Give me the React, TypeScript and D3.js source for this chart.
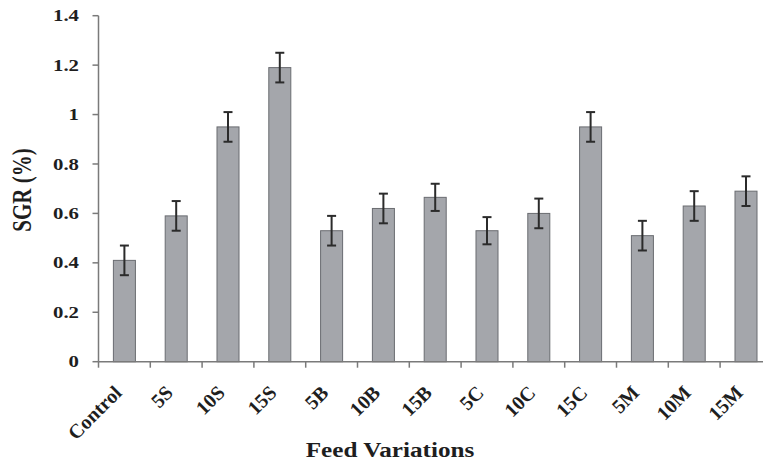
import { useEffect, useRef } from 'react';
import * as d3 from 'd3';

const categories = ['Control', '5S', '10S', '15S', '5B', '10B', '15B', '5C', '10C', '15C', '5M', '10M', '15M'];
const sgr = [0.41, 0.59, 0.95, 1.19, 0.53, 0.62, 0.665, 0.53, 0.6, 0.95, 0.51, 0.63, 0.69];
const sgrErr = [0.06, 0.06, 0.06, 0.06, 0.06, 0.06, 0.055, 0.055, 0.06, 0.06, 0.06, 0.06, 0.06];
const yTicks = [0, 0.2, 0.4, 0.6, 0.8, 1, 1.2, 1.4];

const W = 763;
const H = 464;

const App = () => {
  const ref = useRef<SVGSVGElement>(null);

  useEffect(() => {
    document.body.style.margin = '0';
    const svg = d3.select(ref.current);
    svg.selectAll('*').remove();

    const font = 'Liberation Serif, Times New Roman, Times, serif';
    const left = 98.5;
    // plot runs past the right edge of the picture (cropped like the original)
    const right = left + 51.8 * categories.length;
    const top = 15.7;
    const bottom = 361.7;
    const angle = 45;

    const x = d3.scaleBand<string>().domain(categories).range([left, right]).paddingInner(0.575).paddingOuter(0.2875);
    const y = d3.scaleLinear().domain([0, 1.4]).range([bottom, top]);
    const step = x.step();

    const txt = (g: d3.Selection<any, any, any, any>, size: number) =>
      g.append('text')
        .attr('font-family', font)
        .attr('font-weight', 'bold')
        .attr('font-size', size)
        .attr('fill', '#1e1e1e');

    // bars
    svg.append('g')
      .selectAll('rect')
      .data(categories)
      .enter()
      .append('rect')
      .attr('x', (d) => x(d)!)
      .attr('y', (_, i) => y(sgr[i]))
      .attr('width', x.bandwidth())
      .attr('height', (_, i) => bottom - y(sgr[i]))
      .attr('fill', '#a4a6ab')
      .attr('stroke', '#6a6c71')
      .attr('stroke-width', 1);

    // error bars
    const eg = svg.append('g').attr('stroke', '#2b2b2b').attr('stroke-width', 2);
    categories.forEach((c, i) => {
      const cx = x(c)! + x.bandwidth() / 2;
      const hi = y(sgr[i] + sgrErr[i]);
      const lo = y(sgr[i] - sgrErr[i]);
      eg.append('line').attr('x1', cx).attr('x2', cx).attr('y1', hi).attr('y2', lo);
      eg.append('line').attr('x1', cx - 4.5).attr('x2', cx + 4.5).attr('y1', hi).attr('y2', hi);
      eg.append('line').attr('x1', cx - 4.5).attr('x2', cx + 4.5).attr('y1', lo).attr('y2', lo);
    });

    // y axis
    const ay = svg.append('g').attr('stroke', '#7a7a7a').attr('stroke-width', 1.5);
    ay.append('line').attr('x1', left).attr('x2', left).attr('y1', top).attr('y2', bottom);
    yTicks.forEach((t) => {
      ay.append('line').attr('x1', left - 6).attr('x2', left).attr('y1', y(t)).attr('y2', y(t));
      txt(svg, 16)
        .attr('transform', `translate(79,${y(t)}) scale(1.3,1)`)
        .attr('text-anchor', 'end')
        .attr('dominant-baseline', 'central')
        .text(d3.format('~g')(t));
    });

    // x axis
    ay.append('line').attr('x1', left).attr('x2', right).attr('y1', bottom).attr('y2', bottom);
    d3.range(categories.length + 1).forEach((k) => {
      const tx = left + k * step;
      ay.append('line').attr('x1', tx).attr('x2', tx).attr('y1', bottom).attr('y2', bottom + 6);
    });

    const labels = svg.append('g');
    categories.forEach((c) => {
      const cx = x(c)! + x.bandwidth() / 2 - 2;
      const t = txt(labels, 20)
        .attr('transform', `translate(${cx},394) rotate(-${angle})`)
        .attr('text-anchor', 'end')
        .text(c);
      // keep the long first label inside the chart area, as the original does
      const len = (t.node() as SVGTextElement).getComputedTextLength();
      const startX = cx - len * Math.cos((angle * Math.PI) / 180);
      if (startX < 76) {
        t.attr('transform', `translate(${cx + (76 - startX)},394) rotate(-${angle})`);
      }
    });

    // titles
    txt(svg, 21)
      .attr('transform', `translate(390,457) scale(1.2,1)`)
      .attr('text-anchor', 'middle')
      .text('Feed Variations');

    txt(svg, 21)
      .attr('transform', `translate(31,190) scale(1.3,1) rotate(-90)`)
      .attr('text-anchor', 'middle')
      .text('SGR (%)');
  }, []);

  return <svg ref={ref} width={W} height={H} style={{ display: 'block', overflow: 'hidden', background: '#fff' }} />;
};

export default App;
